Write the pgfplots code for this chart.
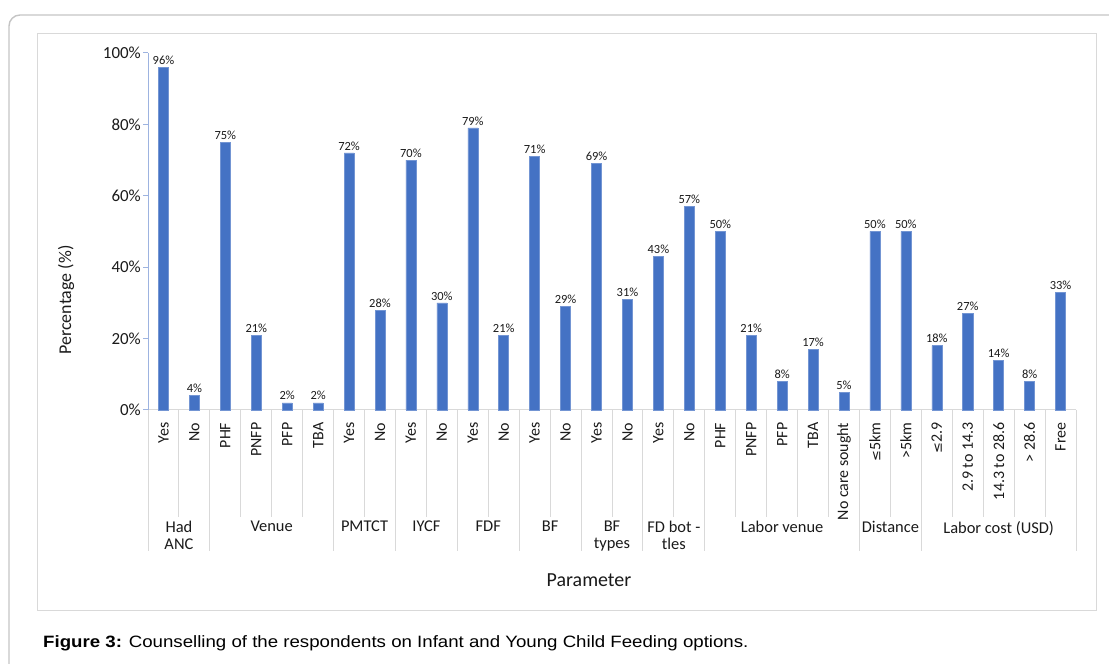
\documentclass[border=0pt]{standalone}
\usepackage{fontspec}
\setmainfont{Carlito}
\newfontfamily\capfont{Liberation Sans}
\newfontfamily\symfont{DejaVu Sans}
\usepackage{graphicx}
\usepackage{pgfplots}
\pgfplotsset{compat=1.18}
\definecolor{barblue}{HTML}{4472C4}
\definecolor{axblue}{HTML}{9DB3E0}
\definecolor{sepgray}{HTML}{D9D9D9}
\definecolor{framegray}{HTML}{C4C4C4}
\definecolor{txt}{HTML}{1A1A1A}

\begin{document}
\begin{tikzpicture}[x=1bp,y=1bp]
\useasboundingbox (0,0) rectangle (1109,664);
% page frame and chart area
\draw[framegray, line width=1.4bp, rounded corners=11bp] (9,-2) -- (9,649) -- (1111,649);
\draw[sepgray, line width=1bp] (37,53) rectangle (1096,630);
\begin{axis}[
  at={(148bp,254bp)}, anchor=south west,
  scale only axis, width=928bp, height=357bp,
  xmin=0, xmax=30, ymin=0, ymax=100,
  clip=false,
  axis x line*=bottom, axis y line*=left,
  x axis line style={-, draw=sepgray, line width=1bp},
  y axis line style={-, draw=axblue, line width=1bp},
  xtick={0.5,1.5,2.5,3.5,4.5,5.5,6.5,7.5,8.5,9.5,10.5,11.5,12.5,13.5,14.5,15.5,16.5,17.5,18.5,19.5,20.5,21.5,22.5,23.5,24.5,25.5,26.5,27.5,28.5,29.5},
  xticklabels={Yes,No,PHF,PNFP,PFP,TBA,Yes,No,Yes,No,Yes,No,Yes,No,Yes,No,Yes,No,PHF,PNFP,PFP,TBA,No care sought,{{\symfont\fontsize{13}{13}\selectfont ≤}5km},>5km,{{\symfont\fontsize{13}{13}\selectfont ≤}2.9},2.9 to 14.3,14.3 to 28.6,> 28.6,Free},
  x tick style={draw=none},
  xticklabel style={rotate=90, anchor=east, inner sep=7.5bp, font=\fontsize{16}{16}\selectfont, text=txt},
  ytick={0,20,40,60,80,100},
  yticklabels={0\%,20\%,40\%,60\%,80\%,100\%},
  y tick style={draw=axblue, line width=1bp},
  tick align=outside, major tick length=5bp,
  yticklabel style={font=\fontsize{17}{17}\selectfont, text=txt, inner sep=2bp},
  /pgf/number format/assume math mode=true,
  ybar, bar width=10bp,
  nodes near coords={\pgfmathprintnumber[fixed,precision=0]{\pgfplotspointmeta}\%},
  every node near coord/.append style={font=\fontsize{12.5}{12.5}\selectfont, text=txt, inner sep=2.5bp},
]
\addplot[fill=barblue, draw=barblue!75!white, line width=0.5bp] coordinates {
  (0.5,96) (1.5,4)
  (2.5,75) (3.5,21) (4.5,2) (5.5,2)
  (6.5,72) (7.5,28)
  (8.5,70) (9.5,30)
  (10.5,79) (11.5,21)
  (12.5,71) (13.5,29)
  (14.5,69) (15.5,31)
  (16.5,43) (17.5,57)
  (18.5,50) (19.5,21) (20.5,8) (21.5,17) (22.5,5)
  (23.5,50) (24.5,50)
  (25.5,18) (26.5,27) (27.5,14) (28.5,8) (29.5,33)
};
% category separators below the axis
\pgfplotsinvokeforeach{1,3,4,5,7,9,11,13,15,17,19,20,21,22,24,26,27,28,29}{
  \draw[sepgray, line width=1bp] (axis cs:#1,0) -- ++(0,-107bp);
}
% group separators
\pgfplotsinvokeforeach{0,2,6,8,10,12,14,16,18,23,25,30}{
  \draw[sepgray, line width=1bp] (axis cs:#1,0) -- ++(0,-141bp);
}
% group names
\begin{scope}[every node/.style={anchor=north, align=center, inner sep=0pt, text=txt, font=\fontsize{16.5}{17}\selectfont}]
  \node at ([yshift=-111bp]axis cs:1,0) {Had\\ANC};
  \node at ([yshift=-111bp]axis cs:4,0) {Venue};
  \node at ([yshift=-111bp]axis cs:7,0) {PMTCT};
  \node at ([yshift=-111bp]axis cs:9,0) {IYCF};
  \node at ([yshift=-111bp]axis cs:11,0) {FDF};
  \node at ([yshift=-111bp]axis cs:13,0) {BF};
  \node at ([yshift=-111bp]axis cs:15,0) {BF\\types};
  \node at ([yshift=-111bp]axis cs:17,0) {FD bot -\\tles};
  \node at ([yshift=-111bp]axis cs:20.5,0) {Labor venue};
  \node at ([yshift=-111bp]axis cs:24,0) {Distance};
  \node at ([yshift=-111bp]axis cs:27.5,0) {Labor cost (USD)};
\end{scope}
\end{axis}
% axis titles
\node[rotate=90, text=txt, font=\fontsize{18}{18}\selectfont] at (66,364) {Percentage (\%)};
\node[text=txt, font=\fontsize{20}{20}\selectfont] at (589,84) {Parameter};
% caption
\node[anchor=base west, inner sep=0pt] at (43,16) {\scalebox{1.135}[1]{\capfont\fontsize{16.5}{18}\selectfont\textbf{Figure 3:} Counselling of the respondents on Infant and Young Child Feeding options.}};
\end{tikzpicture}
\end{document}
